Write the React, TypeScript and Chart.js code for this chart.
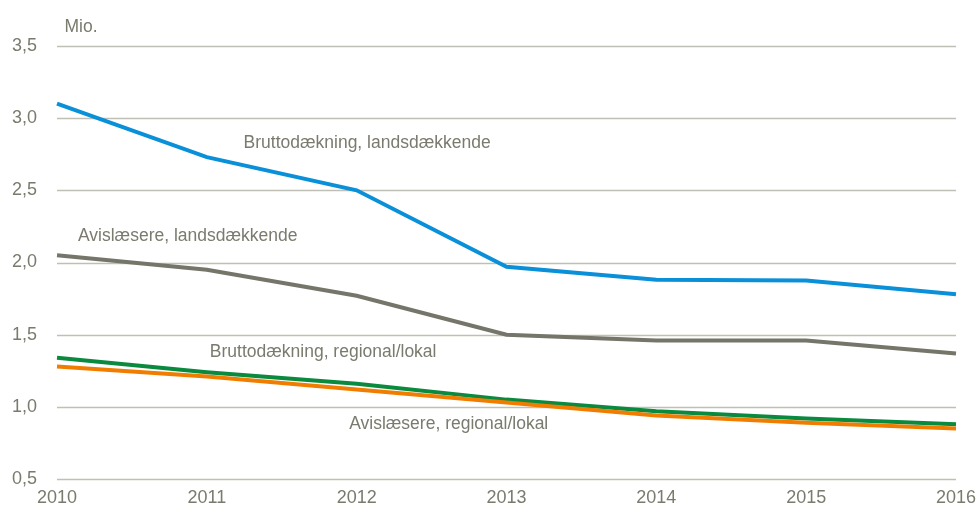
import React, { useEffect, useRef } from "react";
import { Chart, registerables } from "chart.js";

Chart.register(...registerables);

const years = ["2010", "2011", "2012", "2013", "2014", "2015", "2016"];
const bruttoLands = [3.1, 2.73, 2.5, 1.97, 1.88, 1.875, 1.78];
const avisLands = [2.05, 1.95, 1.77, 1.5, 1.46, 1.46, 1.37];
const bruttoRegional = [1.34, 1.24, 1.16, 1.05, 0.97, 0.92, 0.88];
const avisRegional = [1.28, 1.21, 1.12, 1.03, 0.94, 0.89, 0.85];
const yTicks = [0.5, 1.0, 1.5, 2.0, 2.5, 3.0, 3.5];

const labelTexts = [
  "Mio.",
  "Bruttodækning, landsdækkende",
  "Avislæsere, landsdækkende",
  "Bruttodækning, regional/lokal",
  "Avislæsere, regional/lokal",
];
const labelX = [0.05, 1.245, 0.14, 1.02, 1.95];
const labelY = [3.63, 2.83, 2.18, 1.38, 0.88];

const FONT = "'Liberation Sans Narrow', 'Arial Narrow', 'Liberation Sans', Arial, sans-serif";
const TEXT = "#7a7a6e";
const FS = 18;
const PLOT_RIGHT_GAP = 23;

const labelPlugin = {
  id: "lineLabels",
  afterDatasetsDraw(chart: any) {
    const { ctx, scales } = chart;
    ctx.save();
    ctx.font = `17.5px ${FONT}`;
    ctx.fillStyle = TEXT;
    ctx.textAlign = "left";
    ctx.textBaseline = "middle";
    labelTexts.forEach((t, i) => {
      const x = scales.x.getPixelForValue(labelX[i]);
      const y = scales.y.getPixelForValue(labelY[i]);
      ctx.fillText(t, x, y);
    });
    ctx.restore();
  },
};

export default function App() {
  const ref = useRef<HTMLCanvasElement | null>(null);
  useEffect(() => {
    document.body.style.margin = "0";
    const mk = (label: string, data: number[], color: string) => ({
      label,
      data,
      borderColor: color,
      backgroundColor: color,
      borderWidth: 4,
      pointRadius: 0,
      tension: 0,
      fill: false,
    });
    const chart = new Chart(ref.current as HTMLCanvasElement, {
      type: "line",
      data: {
        labels: years,
        datasets: [
          mk("Bruttodækning, landsdækkende", bruttoLands, "#0a90d8"),
          mk("Avislæsere, landsdækkende", avisLands, "#75756a"),
          mk("Avislæsere, regional/lokal", avisRegional, "#f07d00"),
          mk("Bruttodækning, regional/lokal", bruttoRegional, "#0a8a3e"),
        ],
      },
      options: {
        animation: false,
        responsive: false,
        maintainAspectRatio: false,
        layout: { padding: { top: 46, right: PLOT_RIGHT_GAP, left: 0, bottom: 0 } },
        plugins: { legend: { display: false }, tooltip: { enabled: false } },
        scales: {
          x: {
            offset: false,
            grid: { display: false, drawTicks: false },
            border: { display: false },
            ticks: {
              color: TEXT,
              font: { family: FONT, size: FS },
              padding: 8,
              maxRotation: 0,
              autoSkip: false,
            },
            afterFit: (s: any) => {
              s.height = 36;
              s.paddingLeft = 0;
              s.paddingRight = 0;
            },
          },
          y: {
            min: 0.5,
            max: 3.5,
            afterBuildTicks: (s: any) => {
              s.ticks = yTicks.map((v) => ({ value: v }));
            },
            grid: { display: false, drawTicks: false },
            border: { display: false },
            ticks: {
              color: TEXT,
              font: { family: FONT, size: FS },
              padding: 20,
              callback: (v: any) => Number(v).toFixed(1).replace(".", ","),
            },
            afterFit: (s: any) => {
              s.width = 57;
            },
          },
        },
      },
      plugins: [
        {
          id: "hgrid",
          beforeDatasetsDraw(chart: any) {
            const { ctx, scales } = chart;
            const x0 = scales.x.getPixelForValue(0);
            const x1 = scales.x.getPixelForValue(years.length - 1);
            ctx.save();
            ctx.strokeStyle = "#bfbfb5";
            ctx.lineWidth = 1.5;
            yTicks.forEach((v) => {
              const y = Math.round(scales.y.getPixelForValue(v)) + 0.5;
              ctx.beginPath();
              ctx.moveTo(x0, y);
              ctx.lineTo(x1, y);
              ctx.stroke();
            });
            ctx.restore();
          },
        },
        labelPlugin,
      ],
    });
    return () => chart.destroy();
  }, []);
  return (
    <div style={{ width: 979, height: 515 }}>
      <canvas ref={ref} width={979} height={515} style={{ display: "block" }} />
    </div>
  );
}
